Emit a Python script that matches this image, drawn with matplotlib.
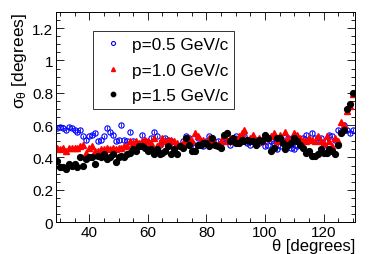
import matplotlib
matplotlib.use("Agg")
import matplotlib.pyplot as plt
import numpy as np
from matplotlib.ticker import MultipleLocator

plt.rcParams['font.family'] = ['Liberation Sans', 'DejaVu Sans']
plt.rcParams['mathtext.fontset'] = 'custom'
plt.rcParams['mathtext.rm'] = 'Liberation Sans'
plt.rcParams['mathtext.it'] = 'Liberation Sans'

# polar angle bins (degrees)
theta = list(range(29, 131))

# sigma_theta for p = 0.5 GeV/c
sig_p05 = [0.58, 0.59, 0.58, 0.57, 0.59, 0.58, 0.57, 0.56, 0.57, 0.53,
           0.51, 0.53, 0.54, 0.55, 0.50, 0.51, 0.53, 0.58, 0.56, 0.54,
           0.50, 0.51, 0.60, 0.51, 0.50, 0.56, 0.50, 0.49, 0.48, 0.54,
           0.50, 0.48, 0.52, 0.56, 0.53, 0.48, 0.50, 0.52, 0.51, 0.50,
           0.47, 0.48, 0.47, 0.50, 0.53, 0.52, 0.49, 0.47, 0.52, 0.48,
           0.47, 0.50, 0.53, 0.49, 0.48, 0.50, 0.49, 0.52, 0.50, 0.48,
           0.50, 0.53, 0.52, 0.50, 0.53, 0.49, 0.48, 0.52, 0.50, 0.49,
           0.51, 0.47, 0.48, 0.50, 0.49, 0.45, 0.47, 0.50, 0.48, 0.52,
           0.46, 0.45, 0.47, 0.50, 0.52, 0.54, 0.51, 0.55, 0.52, 0.50,
           0.52, 0.48, 0.50, 0.54, 0.53, 0.51, 0.57, 0.56, 0.60, 0.57,
           0.55, 0.57]

# sigma_theta for p = 1.0 GeV/c
sig_p10 = [0.46, 0.45, 0.46, 0.44, 0.46, 0.46, 0.46, 0.46, 0.47, 0.48,
           0.43, 0.46, 0.47, 0.44, 0.44, 0.45, 0.45, 0.46, 0.45, 0.46,
           0.45, 0.46, 0.46, 0.47, 0.47, 0.50, 0.49, 0.50, 0.49, 0.50,
           0.51, 0.50, 0.49, 0.52, 0.47, 0.49, 0.52, 0.50, 0.51, 0.51,
           0.50, 0.49, 0.48, 0.49, 0.51, 0.52, 0.50, 0.55, 0.53, 0.50,
           0.51, 0.49, 0.52, 0.50, 0.49, 0.48, 0.50, 0.53, 0.50, 0.52,
           0.50, 0.51, 0.53, 0.55, 0.57, 0.51, 0.52, 0.54, 0.51, 0.52,
           0.50, 0.54, 0.52, 0.53, 0.55, 0.50, 0.54, 0.51, 0.56, 0.52,
           0.50, 0.55, 0.54, 0.52, 0.51, 0.50, 0.52, 0.51, 0.50, 0.53,
           0.50, 0.49, 0.53, 0.50, 0.47, 0.52, 0.50, 0.62, 0.60, 0.69,
           0.72, 0.79]

# sigma_theta for p = 1.5 GeV/c
sig_p15 = [0.38, 0.34, 0.34, 0.33, 0.36, 0.35, 0.36, 0.34, 0.40, 0.35,
           0.39, 0.40, 0.40, 0.36, 0.41, 0.40, 0.42, 0.39, 0.40, 0.42,
           0.37, 0.40, 0.41, 0.40, 0.42, 0.43, 0.45, 0.44, 0.47, 0.47,
           0.46, 0.44, 0.45, 0.42, 0.45, 0.42, 0.43, 0.44, 0.47, 0.42,
           0.45, 0.42, 0.47, 0.46, 0.52, 0.48, 0.44, 0.44, 0.48, 0.48,
           0.49, 0.49, 0.47, 0.52, 0.48, 0.47, 0.46, 0.54, 0.55, 0.50,
           0.52, 0.49, 0.49, 0.51, 0.50, 0.51, 0.50, 0.50, 0.48, 0.51,
           0.50, 0.54, 0.52, 0.44, 0.46, 0.52, 0.52, 0.49, 0.45, 0.48,
           0.49, 0.52, 0.50, 0.48, 0.46, 0.43, 0.44, 0.41, 0.41, 0.42,
           0.45, 0.43, 0.43, 0.45, 0.44, 0.42, 0.48, 0.55, 0.57, 0.70,
           0.73, 0.80]

labels = ['p=0.5 GeV/c', 'p=1.0 GeV/c', 'p=1.5 GeV/c']

fig = plt.figure(figsize=(3.74, 2.55), dpi=100)
ax = fig.add_axes([0.150, 0.125, 0.799, 0.824])

c1 = ax.errorbar(theta, sig_p05, yerr=0.012, fmt='o', mfc='none', mec='blue',
                 ecolor='blue', ms=3.8, mew=0.8, elinewidth=0.6, capsize=0)
c2 = ax.errorbar(theta, sig_p10, yerr=0.012, fmt='^', color='red', ms=3.8,
                 elinewidth=0.6, capsize=0)
c3 = ax.errorbar(theta, sig_p15, yerr=0.012, fmt='o', color='black', ms=4.2,
                 elinewidth=0.6, capsize=0)

ax.set_xlim(28.7, 130.7)
ax.set_ylim(0, 1.3)
ax.xaxis.set_major_locator(MultipleLocator(20))
ax.xaxis.set_minor_locator(MultipleLocator(5))
ax.yaxis.set_major_locator(MultipleLocator(0.2))
ax.yaxis.set_minor_locator(MultipleLocator(0.05))
ax.yaxis.set_major_formatter(plt.FuncFormatter(lambda v, p: f'{v:g}'))
ax.tick_params(which='both', direction='in', top=True, right=True,
               labelsize=11, width=0.6)
ax.tick_params(which='major', length=6, pad=2)
ax.tick_params(which='minor', length=3)
for s in ax.spines.values():
    s.set_linewidth(0.7)

ax.set_xlabel('θ [degrees]', fontsize=12, ha='right')
ax.xaxis.set_label_coords(1.0, -0.075)
ax.set_ylabel(r'$\sigma_{\theta}$ [degrees]', fontsize=12.5, loc='top', labelpad=2)

leg = ax.legend(handles=[c1[0], c2[0], c3[0]], labels=labels,
                loc='upper left', bbox_to_anchor=(0.124, 0.91),
                borderaxespad=0, fontsize=12.4, frameon=True, fancybox=False,
                labelspacing=0.62, handletextpad=0.3, handlelength=1.6,
                borderpad=0.35, markerscale=0.75)
leg.get_frame().set_edgecolor('black')
leg.get_frame().set_linewidth(0.7)

fig.savefig('out.png', dpi=100)
